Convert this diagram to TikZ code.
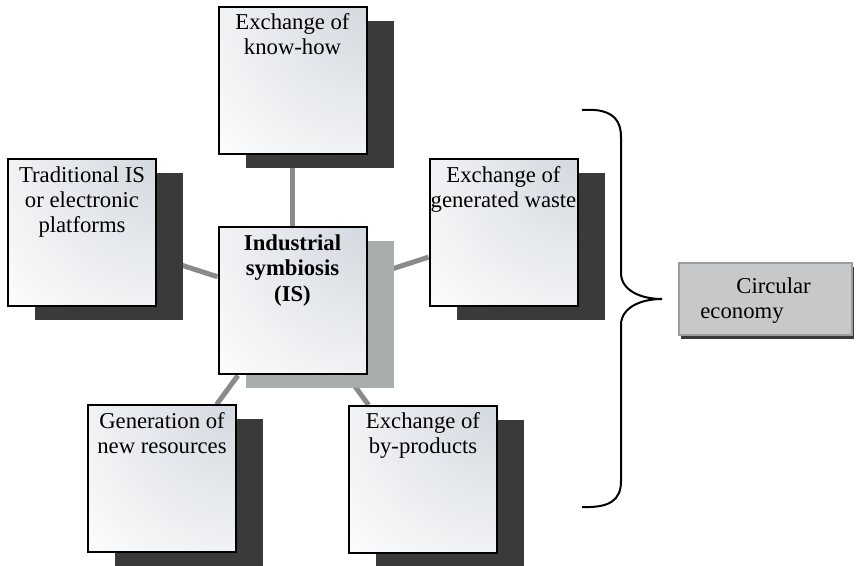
\documentclass[tikz,border=0pt]{standalone}
\usepackage{fontspec}
\setmainfont{Liberation Serif}
\usetikzlibrary{shadows,backgrounds}

\definecolor{boxtint}{RGB}{212,217,224}
\definecolor{shadowdark}{RGB}{58,58,58}
\definecolor{shadowlight}{RGB}{170,173,173}
\definecolor{linkgray}{RGB}{138,138,138}
\definecolor{ecoedge}{RGB}{155,157,158}
\definecolor{ecolight}{RGB}{198,200,202}
\definecolor{ecomid}{RGB}{160,162,163}

\begin{document}
\begin{tikzpicture}[x=0.5pt,y=-0.5pt,
  isbox/.style={draw=black, line width=1pt, minimum width=74pt, minimum height=73.5pt, inner sep=0pt,
    fill=white,
    path picture={\shade[inner color=boxtint, outer color=white] (path picture bounding box.north east) circle (110pt);},
    drop shadow={shadow xshift=13.5pt, shadow yshift=-7pt, fill=shadowdark, opacity=1}},
  hubbox/.style={isbox, drop shadow={shadow xshift=13.5pt, shadow yshift=-7pt, fill=shadowlight, opacity=1}},
  istext/.style={anchor=north, align=center, inner sep=0pt, yshift=-3.75pt, font=\fontsize{11.35}{12.5}\selectfont},
  ecobox/.style={draw=ecoedge, line width=1pt, minimum width=86.5pt, minimum height=36pt, inner sep=0pt,
    top color=ecolight, middle color=ecomid, bottom color=ecolight,
    drop shadow={shadow xshift=1pt, shadow yshift=-2pt, fill=shadowdark, opacity=1}},
  link/.style={draw=linkgray, line width=2.5pt}]
\useasboundingbox (0,0) rectangle (858,566);

% boxes
\node[isbox] (know) at (292.5,80.5) {};
\node[istext] (knowtxt) at (know.north) {Exchange of\\know-how};

\node[isbox] (trad) at (82,233) {};
\node[istext] (tradtxt) at (trad.north) {Traditional IS\\or electronic\\platforms};

\node[isbox] (waste) at (503.5,233) {};
\node[istext] (wastetxt) at (waste.north) {Exchange of\\generated waste};

\node[hubbox] (hub) at (292.5,301) {};
\node[istext, font=\fontsize{11.35}{12.8}\selectfont\bfseries] (hubtxt) at (hub.north) {Industrial\\symbiosis\\(IS)};

\node[isbox] (newres) at (162,479) {};
\node[istext] (newrestxt) at (newres.north) {Generation of\\new resources};

\node[isbox] (byprod) at (423,479.5) {};
\node[istext] (byprodtxt) at (byprod.north) {Exchange of\\by-products};

\node[ecobox] (eco) at (765.5,299) {};
\node[anchor=north west, align=left, inner sep=0pt, font=\fontsize{11.35}{12.2}\selectfont] (ecotxt) at (700,277.5) {\hspace*{18pt}Circular\\economy};

% links behind the boxes
\begin{scope}[on background layer]
\draw[link] (hub) -- (know);
\draw[link] (hub) -- (trad);
\draw[link] (hub) -- (waste);
\draw[link] (hub) -- (newres);
\draw[link] (hub) -- (byprod);
\end{scope}

% brace
\coordinate (tip) at (662,299);
\draw[line width=1pt] (582,110) .. controls (610,108) and (621,118) .. (621,137)
  -- (621,273) .. controls (621,290) and (640,299) .. (tip)
  .. controls (640,299) and (621,308) .. (621,325)
  -- (621,481) .. controls (621,500) and (610,508) .. (582,507);

\end{tikzpicture}
\end{document}
